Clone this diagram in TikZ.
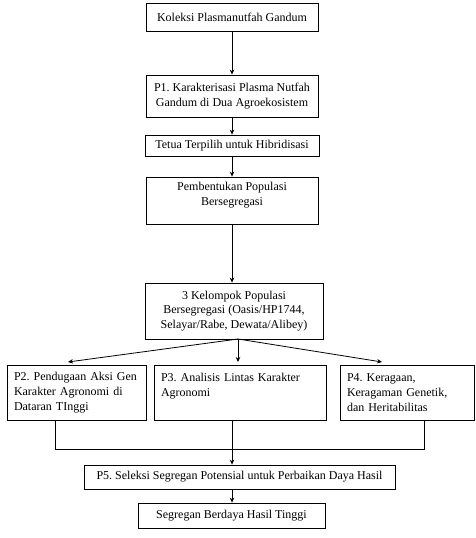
\documentclass[tikz,border=0pt]{standalone}
\usepackage{fontspec}
\setmainfont{Liberation Serif}
\usetikzlibrary{arrows.meta}
\begin{document}
\frenchspacing
\begin{tikzpicture}[x=1pt,y=-1pt,
  box/.style={draw, line width=0.8pt, inner sep=0pt, font=\fontsize{12}{14.8}\selectfont},
  cbox/.style={box, align=center},
  lbox/.style={box, align=left},
  arr/.style={line width=0.8pt, -{Stealth[length=5pt,width=4.5pt]}},
  ln/.style={line width=0.8pt}]
\useasboundingbox (0,0) rectangle (475,538);
\node[cbox, minimum width=172pt, minimum height=28pt] (k1) at (232,17) {Koleksi Plasmanutfah Gandum};
\node[cbox, minimum width=172pt, minimum height=42pt] (k2) at (232,96) {P1. Karakterisasi Plasma Nutfah\\Gandum di Dua Agroekosistem};
\node[cbox, minimum width=174pt, minimum height=21pt] (k3) at (232,145.5) {Tetua Terpilih untuk Hibridisasi};
\node[cbox, minimum width=172pt, minimum height=47pt] (k4) at (232,200.5) {Pembentukan Populasi\\Bersegregasi\\[-2pt]~};
\node[cbox, minimum width=178pt, minimum height=56pt] (k5) at (234,311) {3 Kelompok Populasi\\Bersegregasi (Oasis/HP1744,\\Selayar/Rabe, Dewata/Alibey)};
\node[lbox, minimum width=139pt, minimum height=55pt, text width=125pt] (p2) at (76.5,392.5) {P2. Pendugaan Aksi Gen\\Karakter Agronomi di\\Dataran TInggi};
\node[lbox, minimum width=172pt, minimum height=55pt, text width=158pt] (p3) at (240,392.5) {P3. Analisis Lintas Karakter\\Agronomi\\~};
\node[lbox, minimum width=134pt, minimum height=55pt, text width=120pt] (p4) at (407,392.5) {P4. Keragaan,\\Keragaman Genetik,\\dan Heritabilitas};
\node[cbox, minimum width=311pt, minimum height=24pt] (p5) at (239.5,477) {P5. Seleksi Segregan Potensial untuk Perbaikan Daya Hasil};
\node[cbox, minimum width=187pt, minimum height=25pt] (p6) at (231.5,515.5) {Segregan Berdaya Hasil Tinggi};
\coordinate (fan) at (238,339);
\coordinate (e2) at (68,362);
\coordinate (e3) at (238,362);
\coordinate (e4) at (382,362);
\coordinate (b2) at (55,449);
\coordinate (b3) at (232,449);
\coordinate (b4) at (424,449);
\draw[arr] (k1.south) -- (k2.north);
\draw[arr] (k2.south) -- (k3.north);
\draw[arr] (k3.south) -- (k4.north);
\draw[arr] (k4.south) -- (k4.south |- k5.north);
\draw[arr] (fan) -- (e2);
\draw[arr] (fan) -- (e3);
\draw[arr] (fan) -- (e4);
\draw[ln] (p2.south -| b2) -- (b2) -- (b4) -- (p4.south -| b4);
\draw[ln] (p3.south -| b3) -- (b3);
\draw[arr] (b3) -- (p5.north -| b3);
\draw[arr] (p5.south -| b3) -- (p6.north -| b3);
\end{tikzpicture}
\end{document}
